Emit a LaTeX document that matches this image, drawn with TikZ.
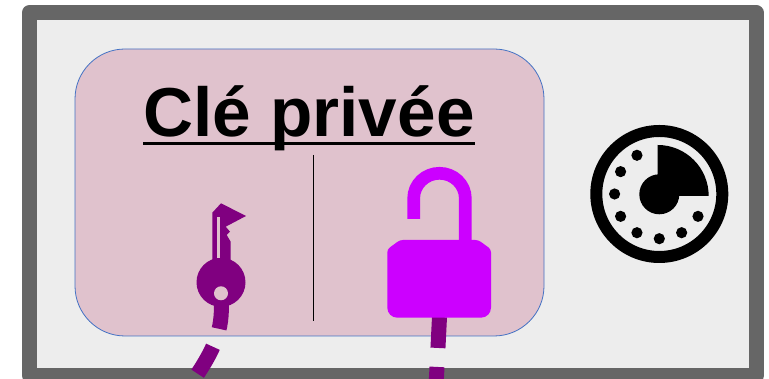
\documentclass[tikz,border=0pt]{standalone}
\usepackage{fontspec}
\setmainfont{Liberation Sans}
\definecolor{framegray}{HTML}{666666}
\definecolor{innergray}{HTML}{EDEDED}
\definecolor{cardpink}{HTML}{E0C2CD}
\definecolor{cardblue}{HTML}{4472C4}
\definecolor{keypurple}{HTML}{800080}
\definecolor{lockpink}{HTML}{CC00FF}
\tikzset{
  wire/.style={keypurple,line width=15pt,dash pattern=on 31pt off 19pt},
}

\begin{document}
\begin{tikzpicture}[x=1pt,y=1pt]
\clip (0,0) rectangle (769,379);

% Outer frame
\draw[framegray,fill=innergray,line width=15pt,line join=round] (29.5,3.5) rectangle (756,366.5);

% Private key card
\draw[cardblue,fill=cardpink,line width=0.8pt,rounded corners=50pt] (75,43) rectangle (544,330);
\node[anchor=base,inner sep=0pt,font=\bfseries\fontsize{69.3}{70}\selectfont] (title) at (309,242.5) {Clé privée};
\draw[line width=3pt] ([yshift=-7pt]title.base west) -- ([yshift=-7pt]title.base east);

% Divider
\coordinate (divtop) at (313,224);
\coordinate (divbot) at (313,58);
\draw[black,line width=0.7pt] (divtop) -- (divbot);

% Wires, under the icons
\coordinate (keyout) at (221.5,81);
\coordinate (keyend) at (187,-10);
\coordinate (lockout) at (439.5,62);
\coordinate (lockend) at (436,-8);
\draw[wire] (keyout) .. controls (221.5,55) and (222,38) .. (keyend);
\draw[wire] (lockout) -- (lockend);

% Key
\fill[keypurple] (212.3,166.3) -- (221,175.7) -- (246,163) -- (225.7,152.3) -- (230,147.3) -- (226.7,144)
  -- (230.7,137.3) -- (230.7,110) -- (212.3,110) -- cycle;
\fill[keypurple] (221,96.7) circle (24.5);
\fill[cardpink] (221,85.7) circle (7);
\fill[cardpink] (217,161.7) rectangle (220,121.3);

% Open padlock
\draw[lockpink,line width=12.7pt] (413.7,160) -- (413.7,180.7) arc[start angle=180,end angle=0,x radius=25.8,y radius=25] -- (465.3,135);
\fill[lockpink,rounded corners=3pt] (387.3,100) -- (387.3,129.7) -- (400,139) -- (478.3,139) -- (491,129.7) -- (491,100) [rounded corners=10pt] -- (491,61.3)
  -- (387.3,61.3) -- cycle;

% Timer
\draw[black,line width=12pt] (659.3,185) circle (63);
\fill[black] (659.3,184.7) circle (20);
\fill[black] (657.7,183) -- (708.7,183) arc[start angle=0,end angle=90,radius=51] -- cycle;
\foreach \a in {120,150,...,330}
    \fill[black] (659.3,185) ++(\a:44.7) circle (5.6);
\end{tikzpicture}
\end{document}
